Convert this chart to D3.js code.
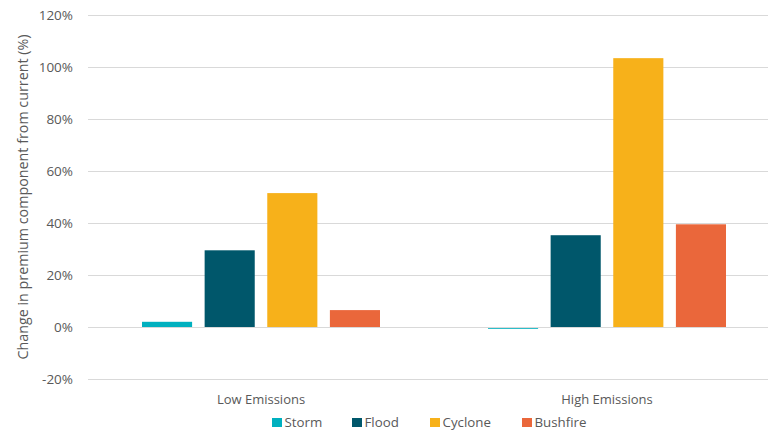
<!DOCTYPE html>
<html>
<head>
<meta charset="utf-8">
<script src="https://cdn.jsdelivr.net/npm/d3@7"></script>
<style>
  html, body { margin: 0; padding: 0; background: #fff; }
  svg { display: block; font-family: "Open Sans", sans-serif; }
</style>
</head>
<body>
<svg id="chart" width="769" height="432"></svg>
<script>
// Scenario groups and hazard series
const scenarios = ["Low Emissions", "High Emissions"];
const hazards = ["Storm", "Flood", "Cyclone", "Bushfire"];
const hazardColors = ["#00B0BF", "#00576B", "#F7B11A", "#EA673B"];

// Change in premium component, percent, by hazard for each scenario
const lowEmissions = [2.0, 29.5, 51.5, 6.5];
const highEmissions = [-0.7, 35.3, 103.4, 39.5];
const seriesValues = [lowEmissions, highEmissions];

const yTicks = [-20, 0, 20, 40, 60, 80, 100, 120];

const FONT = "'Open Sans', sans-serif";
const svg = d3.select("#chart");
const gridLeft = 88, gridRight = 768;

const y = d3.scaleLinear().domain([-20, 120]).range([379, 15]);

const x0 = d3.scaleBand().domain(scenarios).range([88, 780]);
const x1 = d3.scaleBand().domain(hazards).range([0, 238]).paddingInner(0.2);
const color = d3.scaleOrdinal().domain(hazards).range(hazardColors);

// Horizontal gridlines
svg.append("g")
  .selectAll("line")
  .data(yTicks)
  .join("line")
  .attr("x1", gridLeft).attr("x2", gridRight)
  .attr("y1", d => Math.round(y(d)) + 0.5).attr("y2", d => Math.round(y(d)) + 0.5)
  .attr("stroke", "#D9D9D9").attr("stroke-width", 1);

// Y axis tick labels
const yAxis = d3.axisLeft(y).tickValues(yTicks).tickFormat(d => d + "%").tickSize(0).tickPadding(0);
const yg = svg.append("g").attr("transform", "translate(73,0)").call(yAxis);
yg.select(".domain").remove();
yg.selectAll("text").attr("fill", "#595959").attr("font-size", "13.5px").attr("font-family", FONT);

// Bars
const groups = svg.append("g")
  .selectAll("g")
  .data(scenarios)
  .join("g")
  .attr("transform", d => `translate(${x0(d) + (x0.bandwidth() - 238) / 2},0)`);

groups.selectAll("rect")
  .data((d, i) => hazards.map((h, j) => ({ hazard: h, value: seriesValues[i][j] })))
  .join("rect")
  .attr("x", d => x1(d.hazard))
  .attr("width", x1.bandwidth())
  .attr("y", d => y(Math.max(0, d.value)))
  .attr("height", d => Math.max(1.5, Math.abs(y(d.value) - y(0))))
  .attr("fill", d => color(d.hazard));

// Zero line drawn over the bars
svg.append("line")
  .attr("x1", gridLeft).attr("x2", gridRight)
  .attr("y1", Math.round(y(0)) + 0.5).attr("y2", Math.round(y(0)) + 0.5)
  .attr("stroke", "#D9D9D9").attr("stroke-width", 1);

// Category labels
const xAxis = d3.axisBottom(x0).tickSize(0).tickPadding(0);
const xg = svg.append("g").attr("transform", "translate(0,395)").call(xAxis);
xg.select(".domain").remove();
xg.selectAll("text").attr("fill", "#595959").attr("font-size", "13px").attr("font-family", FONT);

// Y axis title
svg.append("text")
  .attr("transform", "translate(28,197) rotate(-90)")
  .attr("text-anchor", "middle")
  .attr("fill", "#595959")
  .attr("font-size", "14.3px")
  .attr("font-family", FONT)
  .text("Change in premium component from current (%)");

// Legend
const legendX = [272, 352, 430, 522];
const legend = svg.append("g")
  .selectAll("g")
  .data(hazards)
  .join("g")
  .attr("transform", (d, i) => `translate(${legendX[i]},418)`);
legend.append("rect").attr("width", 10).attr("height", 9).attr("fill", d => color(d));
legend.append("text").attr("x", 12.5).attr("y", 9)
  .attr("fill", "#595959").attr("font-size", "13.3px").attr("font-family", FONT).text(d => d);
</script>
</body>
</html>
